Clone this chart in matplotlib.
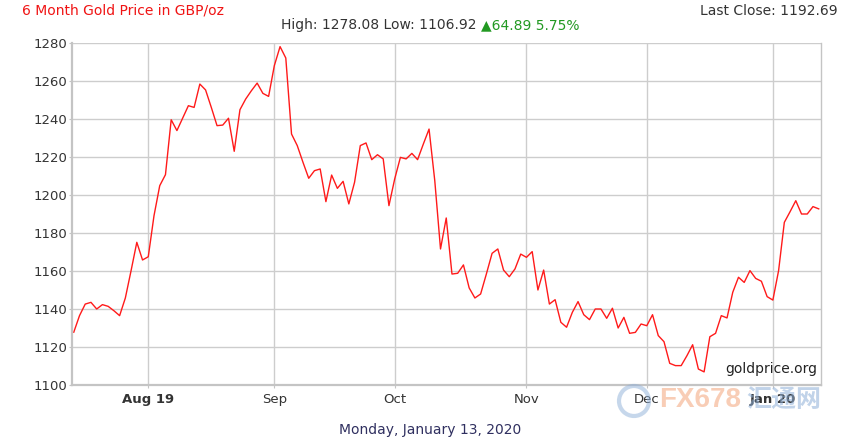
import matplotlib
matplotlib.use("Agg")
import matplotlib.pyplot as plt
import numpy as np
import pandas as pd

# Gold price in GBP/oz, one value per weekday (15 Jul 2019 - 13 Jan 2020)
dates = pd.bdate_range("2019-07-15", "2020-01-13")
prices = [
    1127.8, 1136.5, 1142.6, 1143.5, 1140.0, 1142.3, 1141.4, 1139.1, 1136.5, 1145.8,
    1160.2, 1175.1, 1165.8, 1167.5, 1189.1, 1204.9, 1210.7, 1239.6, 1233.9, 1240.5,
    1247.0, 1246.1, 1258.4, 1255.3, 1246.1, 1236.5, 1236.8, 1240.4, 1223.0, 1244.9,
    1250.5, 1254.9, 1258.9, 1253.5, 1251.9, 1268.1, 1278.1, 1272.1, 1232.1, 1226.0,
    1217.2, 1208.8, 1212.8, 1213.7, 1196.5, 1210.5, 1203.5, 1207.2, 1195.3, 1206.7,
    1226.0, 1227.4, 1218.6, 1221.2, 1219.0, 1194.4, 1208.4, 1219.8, 1219.0, 1221.9,
    1218.6, 1226.8, 1234.7, 1207.5, 1171.6, 1187.9, 1158.4, 1158.8, 1163.2, 1151.1,
    1145.8, 1147.9, 1158.4, 1169.3, 1171.6, 1160.5, 1157.0, 1161.1, 1168.9, 1167.2,
    1170.2, 1150.0, 1160.5, 1142.6, 1144.9, 1133.0, 1130.4, 1138.2, 1143.9, 1137.0,
    1134.4, 1140.0, 1140.0, 1135.1, 1140.4, 1130.0, 1135.6, 1127.2, 1127.7, 1132.1,
    1131.2, 1137.0, 1126.0, 1122.8, 1111.4, 1110.2, 1110.2, 1115.4, 1121.2, 1108.4,
    1106.9, 1125.4, 1127.2, 1136.5, 1135.3, 1148.8, 1156.7, 1154.0, 1160.2, 1156.1,
    1154.6, 1146.5, 1144.7, 1160.2, 1185.6, 1191.2, 1197.0, 1190.0, 1190.0, 1193.9,
    1192.7,
]
month_labels = ["Aug 19", "Sep", "Oct", "Nov", "Dec", "Jan 20"]
bold_labels = ["Aug 19", "Jan 20"]
y_ticks = [1100, 1120, 1140, 1160, 1180, 1200, 1220, 1240, 1260, 1280]

title = "6 Month Gold Price in GBP/oz"
hi_lo = "High: 1278.08 Low: 1106.92 "
change = "\u25b264.89 5.75%"
last_close = "Last Close: 1192.69"
date_text = "Monday, January 13, 2020"

W, H = 842, 437
fig = plt.figure(figsize=(W / 100, H / 100), dpi=100)
ax = fig.add_axes([72 / W, 52 / H, (821 - 72) / W, (385 - 43) / H])

x = np.arange(len(prices))
ax.plot(x, prices, color="#ff1a1a", lw=1.0)

# month ticks at the first trading day of each month
month_pos = [i for i in range(1, len(dates)) if dates[i].month != dates[i - 1].month]
ax.set_xticks(month_pos)
ax.set_xticklabels(month_labels)
for lab in ax.get_xticklabels():
    if lab.get_text() in bold_labels:
        lab.set_fontweight("bold")

ax.set_yticks(y_ticks)
ax.set_xlim(-0.31, 130.4)
ax.set_ylim(1100, 1280)

ax.grid(True, color="#cdcdcd", lw=1.0)
ax.set_axisbelow(True)
for s in ax.spines.values():
    s.set_color("#c4c4c4")
    s.set_linewidth(1.0)
ax.spines["left"].set_linewidth(1.6)
ax.spines["bottom"].set_linewidth(1.6)
ax.spines["top"].set_visible(False)
ax.tick_params(axis="y", length=2, pad=1.5, color="#c4c4c4", labelcolor="#333333", labelsize=9.5)
ax.tick_params(axis="x", length=2, pad=4, color="#c4c4c4", labelcolor="#333333", labelsize=9.5)

# header texts
fig.text(22 / W, 1 - 11 / H, title, color="#f01414", fontsize=10, va="center", ha="left")
fig.text(838 / W, 1 - 11 / H, last_close, color="#333333", fontsize=10, va="center", ha="right")
t1 = fig.text(281 / W, 1 - 25 / H, hi_lo, color="#333333", fontsize=10, va="center", ha="left")
fig.canvas.draw()
bb = t1.get_window_extent()
fig.text(bb.x1 / W, 1 - 25 / H, change, color="#229922", fontsize=10, va="center", ha="left")

fig.text(430 / W, 1 - 430 / H, date_text, color="#303060", fontsize=10, va="center", ha="center")
ax.text(0.995, 0.025, "goldprice.org", transform=ax.transAxes, color="#222222",
        fontsize=10, ha="right", va="bottom")

# watermark
fig.text(700 / W, 1 - 400 / H, "FX678", color="#f4a57a", alpha=0.55, fontsize=20,
         fontweight="bold", family="Liberation Sans", ha="center", va="center")
fig.text(784 / W, 1 - 400 / H, "汇通网", color="#8fb0d8", alpha=0.55, fontsize=18,
         fontweight="bold", family=["Noto Sans CJK SC", "DejaVu Sans"], ha="center", va="center")
ring = plt.Circle((634 / 100, (H - 401) / 100), 0.15, transform=fig.dpi_scale_trans,
                  fill=False, ec="#8fb0d8", lw=3, alpha=0.5)
fig.add_artist(ring)

fig.savefig("out.png", dpi=100)
